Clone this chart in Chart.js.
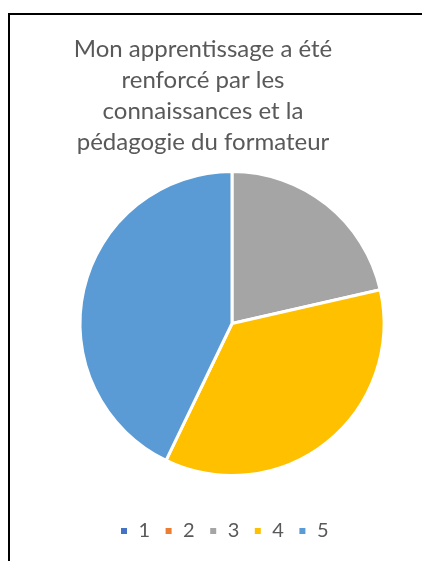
<!DOCTYPE html>
<html>
<head>
<meta charset="utf-8">
<script src="https://cdn.jsdelivr.net/npm/chart.js@4/dist/chart.umd.min.js"></script>
<style>
  html, body { margin: 0; padding: 0; background: #ffffff; }
  canvas { display: block; }
</style>
</head>
<body>
<canvas id="chart" width="422" height="561"></canvas>
<script>
// Ratings 1–5 and how many answers each received
const categories = ['1', '2', '3', '4', '5'];
const counts = [0, 0, 3, 5, 6];
const sliceColors = ['#4472C4', '#ED7D31', '#A5A5A5', '#FFC000', '#5B9BD5'];
const titleLines = [
  'Mon apprentissage a été',
  'renforcé par les',
  'connaissances et la',
  'pédagogie du formateur'
];

// Outer frame: only the top and left edges of the chart border are visible
const frame = {
  id: 'frame',
  beforeDraw(chart, args, opts) {
    const ctx = chart.ctx;
    ctx.save();
    ctx.fillStyle = '#ffffff';
    ctx.fillRect(0, 0, chart.width, chart.height);
    ctx.strokeStyle = opts.color;
    ctx.lineWidth = opts.width;
    ctx.beginPath();
    ctx.moveTo(opts.x, chart.height);
    ctx.lineTo(opts.x, opts.y);
    ctx.lineTo(chart.width, opts.y);
    ctx.stroke();
    ctx.restore();
  }
};

// Title and legend sit on their own centres, apart from the pie's
const nudge = {
  id: 'nudge',
  afterLayout(chart, args, opts) {
    const t = chart.titleBlock;
    const l = chart.legend;
    t.left += opts.titleX; t.right += opts.titleX;
    l.left += opts.legendX; l.right += opts.legendX;
    l.top += opts.legendY; l.bottom += opts.legendY;
  }
};

new Chart(document.getElementById('chart'), {
  type: 'pie',
  data: {
    labels: categories,
    datasets: [{
      data: counts,
      backgroundColor: sliceColors,
      borderColor: '#ffffff',
      borderWidth: 3,
      radius: 152,
      hoverOffset: 0
    }]
  },
  options: {
    responsive: false,
    animation: false,
    events: [],
    layout: { padding: { left: 42, right: 0, top: 0, bottom: 28 } },
    plugins: {
      frame: { x: 9, y: 14, width: 2, color: '#000000' },
      nudge: { titleX: -29, legendX: -8, legendY: 18 },
      tooltip: { enabled: false },
      title: {
        display: true,
        text: titleLines,
        color: '#595959',
        font: { family: 'Lato', size: 24, weight: 'normal', lineHeight: 31 / 24 },
        padding: { top: 34, bottom: 0 }
      },
      legend: {
        display: true,
        position: 'bottom',
        labels: {
          color: '#595959',
          font: { family: 'Lato', size: 20 },
          boxWidth: 9,
          boxHeight: 9,
          padding: 14
        }
      }
    }
  },
  plugins: [frame, nudge]
});
</script>
</body>
</html>
